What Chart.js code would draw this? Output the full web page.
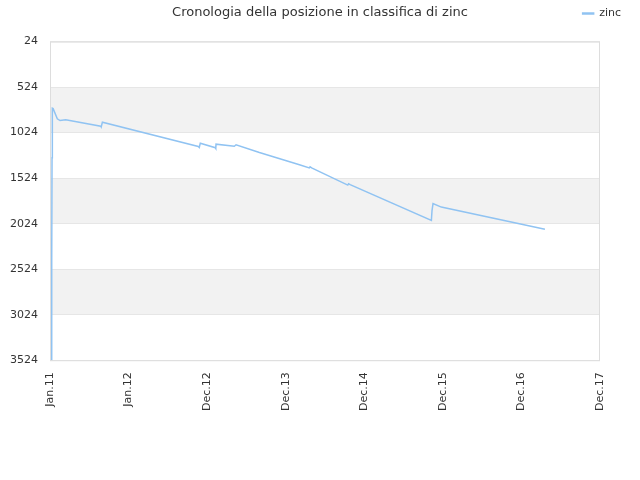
<!DOCTYPE html>
<html>
<head>
<meta charset="utf-8">
<script src="https://cdn.jsdelivr.net/npm/chart.js@4/dist/chart.umd.min.js"></script>
<style>
    html, body { margin: 0; padding: 0; background: #fff; }
    #wrap { width: 640px; height: 480px; }
</style>
</head>
<body>
<div id="wrap"><canvas id="rankChart"></canvas></div>
<script>
// Dati
const xLabels = ['Jan.11', 'Jan.12', 'Dec.12', 'Dec.13', 'Dec.14', 'Dec.15', 'Dec.16', 'Dec.17'];
const yTicks = [24, 524, 1024, 1524, 2024, 2524, 3024, 3524];
const timePos = [0.017, 0.022, 0.026, 0.030, 0.040, 0.093, 0.128, 0.20, 0.646, 0.652, 0.667,
    1.887, 1.900, 1.913, 2.104, 2.110, 2.113, 2.346, 2.368, 2.665, 3.175, 3.300, 3.310, 3.330,
    3.790, 3.800, 3.820, 4.854, 4.862, 4.875, 4.980, 6.299];
const rankZinc = [3524, 2400, 1300, 756, 760, 872, 891, 883, 953, 962, 909,
    1176, 1187, 1140, 1190, 1198, 1151, 1173, 1157, 1242, 1377, 1412, 1400, 1412,
    1600, 1585, 1596, 1988, 1880, 1804, 1842, 2086];

// Bande alternate + bordo dell'area del grafico
const bandsPlugin = {
    id: 'bands',
    afterLayout(chart) {
        // titolo centrato sulla tela, legenda fino al bordo destro
        chart.titleBlock.left = 0;
        chart.titleBlock.right = chart.width;
        chart.legend.left += 29;
        chart.legend.right += 29;
    },
    beforeDraw(chart) {
        const { ctx, chartArea, scales } = chart;
        ctx.save();
        for (let i = 1; i < yTicks.length - 1; i += 2) {
            const y1 = scales.y.getPixelForValue(yTicks[i]);
            const y2 = scales.y.getPixelForValue(yTicks[i + 1]);
            ctx.fillStyle = '#f2f2f2';
            ctx.fillRect(chartArea.left, y1, chartArea.right - chartArea.left, y2 - y1);
        }
        ctx.restore();
    },
    afterDraw(chart) {
        const { ctx, chartArea } = chart;
        ctx.save();
        ctx.strokeStyle = '#dddddd';
        ctx.lineWidth = 1;
        ctx.strokeRect(chartArea.left + 0.5, chartArea.top + 0.5,
            chartArea.right - chartArea.left - 1, chartArea.bottom - chartArea.top);
        ctx.restore();
    }
};

const ctx = document.getElementById('rankChart').getContext('2d');
new Chart(ctx, {
    type: 'line',
    data: {
        datasets: [{
            label: 'zinc',
            data: timePos.map((x, i) => ({ x: x, y: rankZinc[i] })),
            borderColor: '#90c3f2',
            backgroundColor: '#90c3f2',
            borderWidth: 1.5,
            pointRadius: 0,
            tension: 0,
            fill: false
        }]
    },
    options: {
        responsive: true,
        maintainAspectRatio: false,
        animation: false,
        layout: { padding: { left: -2, right: 40, top: 0, bottom: 65 } },
        plugins: {
            legend: {
                position: 'top',
                align: 'end',
                weight: 3000,
                labels: {
                    color: '#333333',
                    font: { family: 'DejaVu Sans', size: 11 },
                    boxWidth: 11,
                    boxHeight: 1,
                    padding: 8
                }
            },
            title: {
                display: true,
                weight: 2000,
                text: 'Cronologia della posizione in classifica di zinc',
                color: '#333333',
                font: { family: 'DejaVu Sans', size: 13, weight: 'normal' },
                padding: { top: -24, bottom: 21 }
            },
            tooltip: { enabled: false }
        },
        scales: {
            x: {
                type: 'linear',
                min: 0,
                max: 7,
                afterBuildTicks: axis => { axis.ticks = xLabels.map((_, i) => ({ value: i })); },
                grid: { display: false },
                border: { display: false },
                ticks: {
                    color: '#333333',
                    font: { family: 'DejaVu Sans', size: 11 },
                    minRotation: 90,
                    maxRotation: 90,
                    padding: 4,
                    callback: value => xLabels[value]
                }
            },
            y: {
                type: 'linear',
                reverse: true,
                min: 24,
                max: 3524,
                afterBuildTicks: axis => { axis.ticks = yTicks.map(v => ({ value: v })); },
                grid: { color: '#e6e6e6', drawTicks: false },
                border: { display: false },
                ticks: {
                    color: '#333333',
                    font: { family: 'DejaVu Sans', size: 11 },
                    padding: 12,
                    callback: value => String(value)
                }
            }
        }
    },
    plugins: [bandsPlugin]
});
</script>
</body>
</html>
